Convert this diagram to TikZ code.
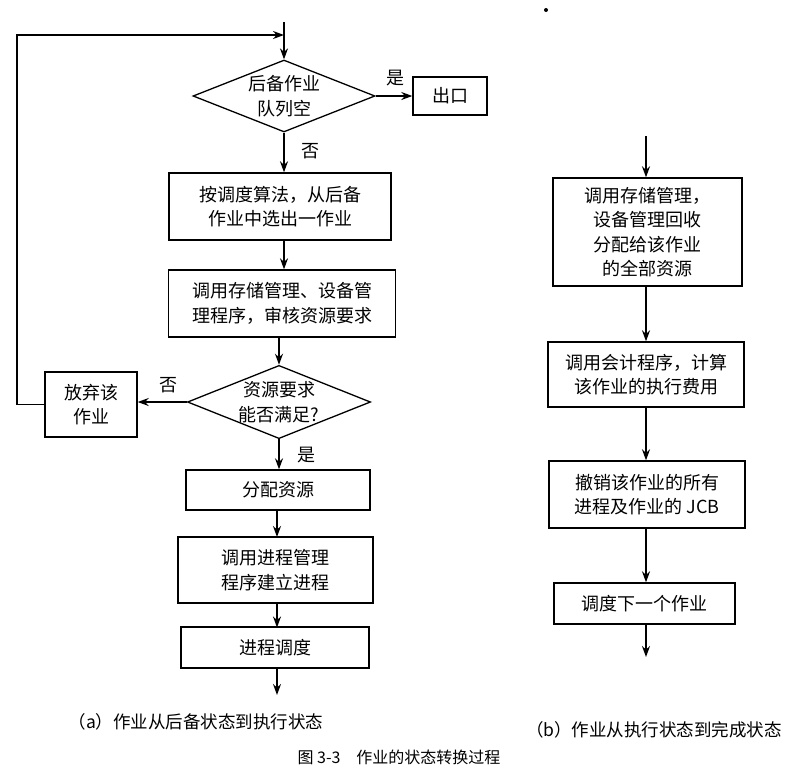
\documentclass[tikz,border=0pt]{standalone}
\usepackage{fontspec}
\setmainfont{Noto Sans CJK SC}
\usetikzlibrary{shapes.geometric,arrows.meta}
\tikzset{
  flowbox/.style={draw, line width=1.4pt, inner sep=0pt, align=center, font=\fontsize{18}{24.5}\selectfont},
  decide/.style={draw, diamond, aspect=2.5, line width=1.3pt, inner sep=0pt, align=center, font=\fontsize{18}{24.5}\selectfont},
  arr/.style={line width=1.4pt, -{Stealth[length=11pt,width=8pt]}},
  lbl/.style={font=\fontsize{18}{20}\selectfont, inner sep=0pt},
  captext/.style={font=\fontsize{17.5}{20}\selectfont, inner sep=0pt},
  figtext/.style={font=\fontsize{16}{20}\selectfont, inner sep=0pt}
}
\begin{document}
\begin{tikzpicture}[x=1pt,y=-1pt]
\useasboundingbox[fill=white] (0,0) rectangle (795,782);
% ---------- (a) ----------
\coordinate (top) at (284,22);
\coordinate (join) at (284,35);
\coordinate (lft) at (17,35);
\node[decide, minimum width=182pt, minimum height=72pt] (d1) at (284,96) {后备作业\\队列空};
\node[flowbox, minimum width=74pt, minimum height=38pt] (exit) at (450,96) {出口};
\node[flowbox, minimum width=222pt, minimum height=67pt] (b2) at (280,206.5) {按调度算法，从后备\\作业中选出一作业};
\node[flowbox, minimum width=227pt, minimum height=67pt] (b3) at (282,303.5) {调用存储管理、设备管\\理程序，审核资源要求};
\node[decide, minimum width=181pt, minimum height=71pt] (d2) at (279,402) {资源要求\\能否满足?};
\node[flowbox, minimum width=92pt, minimum height=65pt] (ab) at (91,404.5) {放弃该\\作业};
\node[flowbox, minimum width=184pt, minimum height=40pt] (b5) at (278,490) {分配资源};
\node[flowbox, minimum width=195pt, minimum height=66pt] (b6) at (275.5,570) {调用进程管理\\程序建立进程};
\node[flowbox, minimum width=188pt, minimum height=41pt] (b7) at (275,647.5) {进程调度};
\coordinate (aend) at (277,695);

\draw[arr] (top) -- (d1.north);
\draw[arr] (ab.west) -- (ab.west -| lft) -- (lft) -- (join);
\draw[arr] (d1.east) -- (exit.west);
\draw[arr] (d1.south) -- (d1.south |- b2.north);
\draw[arr] (d1.south |- b2.south) -- (d1.south |- b3.north);
\draw[arr] (d2.north |- b3.south) -- (d2.north);
\draw[arr] (d2.west) -- (ab.east |- d2.west);
\draw[arr] (d2.south) -- (d2.south |- b5.north);
\draw[arr] (277,510) -- (277,537);
\draw[arr] (277,603) -- (277,627.5);
\draw[arr] (277,668) -- (aend);

\node[lbl] (y1) at (395,78) {是};
\node[lbl] (n1) at (310,151) {否};
\node[lbl] (n2) at (168,385) {否};
\node[lbl] (y2) at (306,455) {是};

\node[captext] (capa) at (196,722) {（a）作业从后备状态到执行状态};
\node[figtext] (capf) at (399,757) {图 3-3\quad 作业的状态转换过程};

% ---------- (b) ----------
\fill (546,10) circle (2pt);
\coordinate (rtop) at (646,136);
\node[flowbox, minimum width=189pt, minimum height=108pt] (r1) at (647.5,232) {调用存储管理，\\设备管理回收\\分配给该作业\\的全部资源};
\node[flowbox, minimum width=196pt, minimum height=65pt] (r2) at (646,374.5) {调用会计程序，计算\\该作业的执行费用};
\node[flowbox, minimum width=196pt, minimum height=67pt] (r3) at (647,494.5) {撤销该作业的所有\\进程及作业的 JCB};
\node[flowbox, minimum width=181pt, minimum height=41pt] (r4) at (644.5,603.5) {调度下一个作业};
\coordinate (rend) at (646,657);

\draw[arr] (rtop) -- (rtop |- r1.north);
\draw[arr] (rtop |- r1.south) -- (rtop |- r2.north);
\draw[arr] (rtop |- r2.south) -- (rtop |- r3.north);
\draw[arr] (rtop |- r3.south) -- (rtop |- r4.north);
\draw[arr] (rtop |- r4.south) -- (rend);

\node[captext] (capb) at (654,730) {（b）作业从执行状态到完成状态};
\end{tikzpicture}
\end{document}
